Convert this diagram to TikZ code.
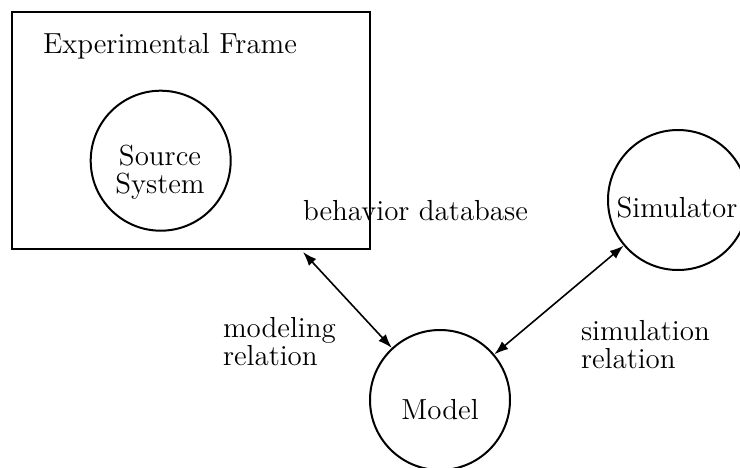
\documentclass[tikz,border=0pt]{standalone}
\usetikzlibrary{arrows.meta}
\begin{document}
\begin{tikzpicture}[x=0.5pt,y=-0.5pt,line width=1pt,
  font=\fontsize{14.5}{14}\selectfont,
  ring/.style={draw,circle,minimum size=70pt,inner sep=0pt},
  lbl/.style={inner sep=0pt,align=left},
  rel/.style={{Latex[length=7pt,width=5pt]}-{Latex[length=7pt,width=5pt]},line width=0.8pt}]
\useasboundingbox (0,0) rectangle (740,467);
\node[draw,rectangle,minimum width=179pt,minimum height=118.5pt,inner sep=0pt] (frame) at (191,130.5) {};
\node[lbl,anchor=base west] (frametxt) at (42,53) {Experimental Frame};
\node[ring] (source) at (160.7,160.7) {};
\node[lbl,align=center,anchor=base] (sourcetxt) at (160,193) {Source\\System};
\node[lbl,anchor=base west] (behav) at (302,220) {behavior database};
\node[ring] (sim) at (678,200) {};
\node[lbl,anchor=base] (simtxt) at (677,217) {Simulator};
\node[ring] (model) at (440,400) {};
\node[lbl,anchor=base] (modeltxt) at (440,419) {Model};
\node[lbl,anchor=base west] (modrel) at (222,365) {modeling\\relation};
\node[lbl,anchor=base west] (simrel) at (580,368) {simulation\\relation};
\coordinate (ftap) at (303,252);
\draw[rel] (ftap) -- (model);
\draw[rel] (model) -- (sim);
\end{tikzpicture}
\end{document}
